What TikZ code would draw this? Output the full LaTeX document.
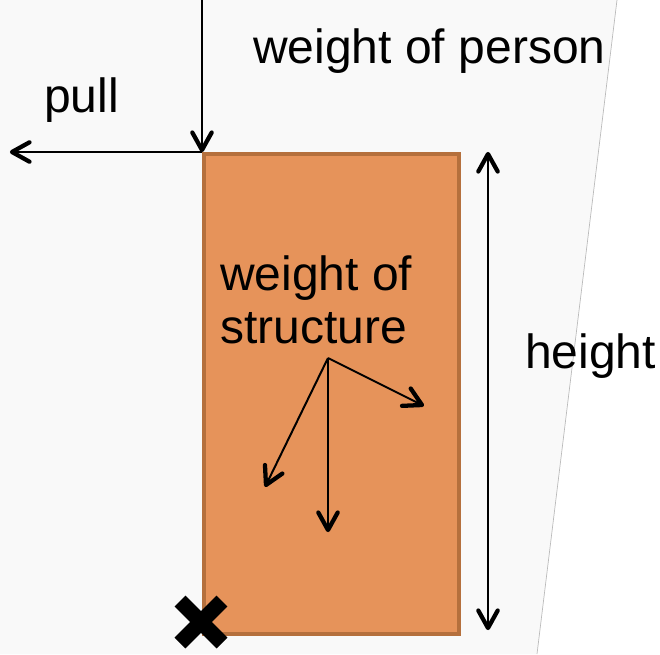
\documentclass[tikz,border=0pt]{standalone}
\usepackage{fontspec}
\setmainfont{Liberation Sans}
\usetikzlibrary{calc}
\definecolor{boxfill}{HTML}{E6935A}
\definecolor{boxedge}{HTML}{B5703D}
\definecolor{bgpane}{HTML}{F9F9F9}
\tikzset{
  lbl/.style={inner sep=0pt, anchor=base west, font=\fontsize{36}{42}\selectfont},
  shaft/.style={line width=1.5pt},
  barb/.style={line width=3.2pt, line cap=round, line join=round},
}
\newcommand{\barbat}[2]{% tip, from
  \draw[barb] ($(#1)!15pt!29:(#2)$) -- (#1) -- ($(#1)!15pt!-29:(#2)$);}
\begin{document}
\begin{tikzpicture}[x=0.75pt,y=-0.75pt]
\useasboundingbox (0,0) rectangle (660,654);
\fill[white] (0,0) rectangle (660,654);
\fill[bgpane] (0,0) -- (617,0) -- (537,654) -- (0,654) -- cycle;
\draw[gray!55, line width=0.5pt] (617,0) -- (537,654);
% structure
\node[draw=boxedge, fill=boxfill, line width=3.2pt, minimum width=255pt*0.75, minimum height=480pt*0.75, inner sep=0pt, anchor=north west] (box) at (201.5,151.5) {};
% coordinates
\coordinate (ptop) at (202,0);
\coordinate (corner) at (202,150);
\coordinate (pullend) at (12,152);
\coordinate (pullstart) at (202,152);
\coordinate (htop) at (488,154);
\coordinate (hbot) at (488,628);
\coordinate (g) at (328,358);
\coordinate (gl) at (266,485);
\coordinate (gd) at (328,530);
\coordinate (gr) at (422,405);
\coordinate (xa) at (180,601);
\coordinate (xb) at (222,643);
\coordinate (xd) at (180,643);
\coordinate (xe) at (222,601);
% arrows
\draw[shaft] (ptop) -- (corner);
\barbat{corner}{ptop}
\draw[shaft] (pullstart) -- (pullend);
\barbat{pullend}{pullstart}
\draw[shaft] (hbot) -- (htop);
\barbat{htop}{hbot}
\barbat{hbot}{htop}
\draw[shaft] (g) -- (gl);
\barbat{gl}{g}
\draw[shaft] (g) -- (gd);
\barbat{gd}{g}
\draw[shaft] (g) -- (gr);
\barbat{gr}{g}
% cross
\draw[line width=11.5pt] (xa) -- (xb);
\draw[line width=11.5pt] (xd) -- (xe);
% labels
\node[lbl] (wp) at (253,63) {weight of person};
\node[lbl] (pl) at (44,112) {pull};
\node[lbl] (ws1) at (220,290) {weight of};
\node[lbl] (ws2) at (220,343) {structure};
\node[lbl] (ht) at (525,368) {height};
\end{tikzpicture}
\end{document}
